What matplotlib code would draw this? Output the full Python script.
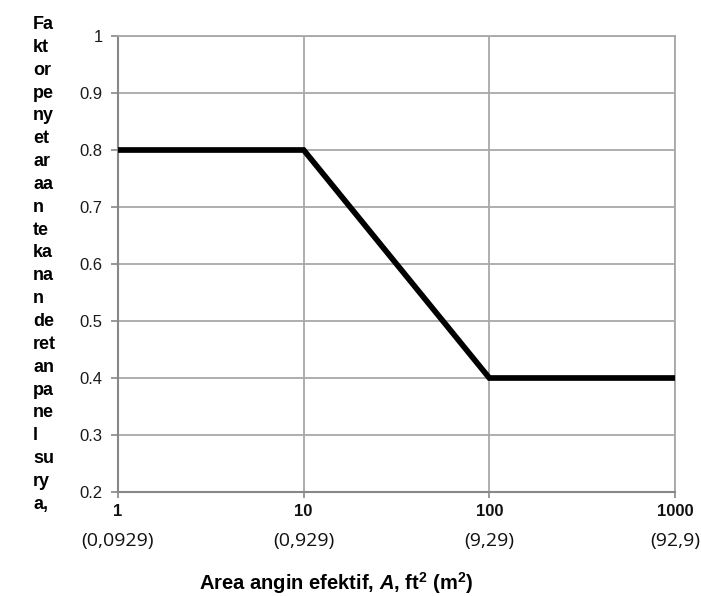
import matplotlib
matplotlib.use("Agg")
import matplotlib.pyplot as plt
from matplotlib.transforms import blended_transform_factory

# Data
area_ft2 = [1, 10, 100, 1000]
factor = [0.8, 0.8, 0.4, 0.4]
x_ticks = [1, 10, 100, 1000]
x_tick_labels = ["1", "10", "100", "1000"]
x_metric_labels = ["(0,0929)", "(0,929)", "(9,29)", "(92,9)"]
y_ticks = [0.2, 0.3, 0.4, 0.5, 0.6, 0.7, 0.8, 0.9, 1.0]
y_tick_labels = ["0.2", "0.3", "0.4", "0.5", "0.6", "0.7", "0.8", "0.9", "1"]
ylabel_rows = ["Fa", "kt", "or", "pe", "ny", "et", "ar", "aa", "n", "te", "ka",
               "na", "n", "de", "ret", "an", "pa", "ne", "l", "su", "ry", "a,"]
xlabel = r"Area angin efektif, $\mathbfit{A}$, ft$^{\mathbf{2}}$ (m$^{\mathbf{2}}$)"

plt.rcParams['font.family'] = ['Liberation Sans', 'DejaVu Sans']
plt.rcParams['mathtext.fontset'] = 'custom'
plt.rcParams['mathtext.rm'] = 'Liberation Sans:bold'
plt.rcParams['mathtext.bf'] = 'Liberation Sans:bold'
plt.rcParams['mathtext.bfit'] = 'Liberation Sans:bold:italic'
plt.rcParams['mathtext.it'] = 'Liberation Sans:bold:italic'

W, H = 701, 596
fig = plt.figure(figsize=(W / 100, H / 100), dpi=100)
L, R, T, B = 118, 675, 36, 492
ax = fig.add_axes([L / W, 1 - B / H, (R - L) / W, (B - T) / H])

ax.plot(area_ft2, factor, color='black', lw=4.1, solid_capstyle='butt',
        solid_joinstyle='miter', zorder=3)
ax.set_xscale('log')
ax.set_xlim(1, 1000)
ax.set_ylim(0.2, 1.0)

ax.set_xticks(x_ticks)
ax.set_xticklabels(x_tick_labels, fontsize=12, fontweight='bold', color='#111111')
ax.minorticks_off()
ax.set_yticks(y_ticks)
ax.set_yticklabels(y_tick_labels, fontsize=12, color='#1a1a1a')

grid_c = '#a8a8a8'
ax.grid(True, which='major', color=grid_c, lw=1.3)
for s in ['top', 'right']:
    ax.spines[s].set_color(grid_c)
    ax.spines[s].set_linewidth(1.3)
for s in ['left', 'bottom']:
    ax.spines[s].set_color('#888888')
    ax.spines[s].set_linewidth(1.5)
ax.tick_params(axis='y', direction='out', length=5, width=1.2, color='#888888', pad=6)
ax.tick_params(axis='x', direction='out', length=4, width=1.2, color='#888888', pad=5)

trans = blended_transform_factory(ax.transData, fig.transFigure)
for xv, lab in zip(x_ticks, x_metric_labels):
    ax.text(xv, 1 - 541 / H, lab, transform=trans, ha='center', va='center',
            fontsize=14, family=['Open Sans', 'DejaVu Sans'], color='#111111')

fig.text(336 / W, 1 - 583 / H, xlabel, ha='center', va='center',
         fontsize=14.5, fontweight='bold')

fig.text(33 / W, 1 - 16 / H, "\n".join(ylabel_rows), ha='left', va='top',
         fontsize=13, fontweight='bold', linespacing=1.45)

fig.savefig("out.png", dpi=100, facecolor='white')
